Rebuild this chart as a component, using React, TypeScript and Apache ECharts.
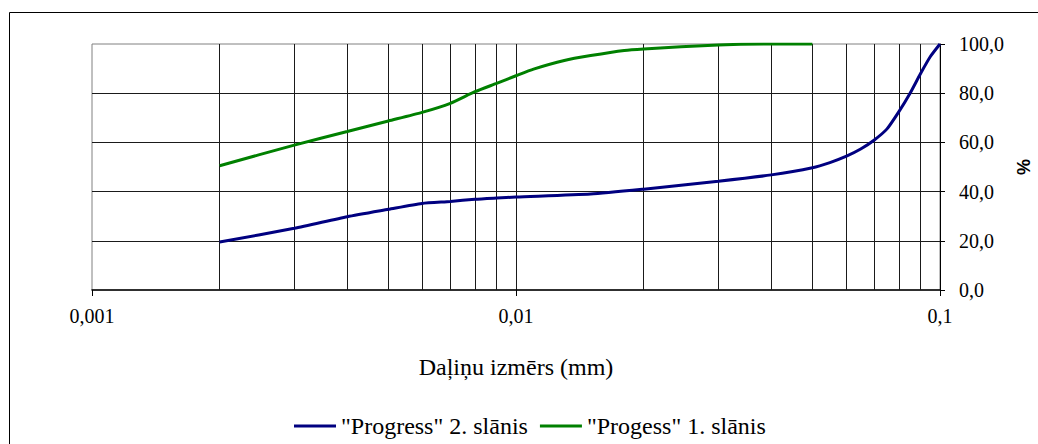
import React, { useEffect, useRef } from "react";
import * as echarts from "echarts";

const seriesNames = ['"Progress" 2. slānis', '"Progess" 1. slānis'];
const seriesColors = ["#000080", "#008000"];

const blueSizes = [0.002, 0.003, 0.004, 0.005, 0.006, 0.007, 0.008, 0.009, 0.01, 0.015, 0.02, 0.03, 0.04, 0.05, 0.055, 0.06, 0.065, 0.07, 0.075, 0.08, 0.085, 0.09, 0.095, 0.1];
const blueValues = [19.5, 25.1, 29.8, 32.8, 35.2, 36.0, 36.9, 37.4, 37.8, 39.0, 41.0, 44.2, 46.8, 49.7, 51.8, 54.3, 57.3, 61.0, 65.5, 72.5, 80.0, 88.0, 95.0, 100.0];

const greenSizes = [0.002, 0.003, 0.004, 0.005, 0.006, 0.007, 0.008, 0.009, 0.01, 0.011, 0.013, 0.015, 0.018, 0.02, 0.03, 0.04, 0.05];
const greenValues = [50.5, 58.9, 64.4, 68.7, 72.2, 75.9, 80.6, 84.0, 87.1, 89.8, 93.3, 95.3, 97.4, 98.0, 99.6, 100.0, 100.0];

const minorGridSizes = [0.002, 0.003, 0.004, 0.005, 0.006, 0.007, 0.008, 0.009, 0.02, 0.03, 0.04, 0.05, 0.06, 0.07, 0.08, 0.09];

const xMin = 0.001;
const xMax = 0.1;
const yMin = 0;
const yMax = 100;
const yInterval = 20;

const xAxisTitle = "Daļiņu izmērs (mm)";
const yAxisTitle = "%";

const serif = "Times New Roman, Liberation Serif, DejaVu Serif, serif";
const sans = "Arial, Liberation Sans, sans-serif";

export default function App() {
  const ref = useRef<HTMLDivElement>(null);
  useEffect(() => {
    if (!ref.current) return;
    const chart = echarts.init(ref.current, undefined, { renderer: "svg" });
    const pairs = (xs: number[], ys: number[]) => xs.map((x, i) => [x, ys[i]]);
    chart.setOption({
      animation: false,
      backgroundColor: "#ffffff",
      textStyle: { fontFamily: serif },
      graphic: [
        {
          type: "rect",
          shape: { x: 9.5, y: 12.5, width: 1200, height: 600 },
          style: { fill: "none", stroke: "#000", lineWidth: 1 },
          silent: true,
          z: -10,
        },
      ],
      grid: {
        left: 92,
        right: 98,
        top: 44,
        bottom: 154,
        outerBoundsMode: "none",
        containLabel: false,
        show: true,
        borderColor: "#808080",
        borderWidth: 1,
        backgroundColor: "transparent",
      },
      legend: {
        data: seriesNames,
        left: 289,
        top: 409,
        icon: "rect",
        itemWidth: 42,
        itemHeight: 3,
        itemGap: 12,
        textStyle: { fontFamily: serif, fontSize: 24, color: "#000", lineHeight: 24 },
      },
      xAxis: {
        type: "log",
        logBase: 10,
        min: xMin,
        max: xMax,
        name: xAxisTitle,
        nameLocation: "middle",
        nameGap: 65,
        nameTextStyle: { fontFamily: serif, fontSize: 24, color: "#000" },
        axisLine: { show: true, onZero: false, lineStyle: { color: "#000", width: 1.5 } },
        axisTick: { show: true, inside: false, length: 6, lineStyle: { color: "#000" } },
        axisLabel: {
          margin: 16,
          fontFamily: serif,
          fontSize: 20,
          color: "#000",
          formatter: (v: number) => String(Number(v.toPrecision(6))).replace(".", ","),
        },
        splitLine: { show: true, showMinLine: false, showMaxLine: false, lineStyle: { color: "#1a1a1a", width: 1 } },
      },
      yAxis: {
        type: "value",
        position: "right",
        min: yMin,
        max: yMax,
        interval: yInterval,
        name: yAxisTitle,
        nameLocation: "middle",
        nameRotate: 90,
        nameGap: 75,
        nameTextStyle: { fontFamily: sans, fontWeight: "bold", fontSize: 18, color: "#000" },
        axisLine: { show: true, lineStyle: { color: "#000", width: 1 } },
        axisTick: { show: true, inside: false, length: 5, lineStyle: { color: "#000" } },
        axisLabel: {
          margin: 19,
          fontFamily: serif,
          fontSize: 20,
          color: "#000",
          formatter: (v: number) => v.toFixed(1).replace(".", ","),
        },
        splitLine: { show: true, showMinLine: false, showMaxLine: false, lineStyle: { color: "#1a1a1a", width: 1 } },
      },
      series: [
        {
          name: "minor-grid",
          type: "lines",
          coordinateSystem: "cartesian2d",
          silent: true,
          polyline: false,
          lineStyle: { color: "#1a1a1a", width: 1, opacity: 1, curveness: 0 },
          data: minorGridSizes.map((v) => ({ coords: [[v, yMin], [v, yMax]] })),
          z: 1,
        },
        {
          name: seriesNames[0],
          type: "line",
          data: pairs(blueSizes, blueValues),
          showSymbol: false,
          symbol: "none",
          smooth: 0.2,
          lineStyle: { color: seriesColors[0], width: 3 },
          itemStyle: { color: seriesColors[0] },
          z: 5,
        },
        {
          name: seriesNames[1],
          type: "line",
          data: pairs(greenSizes, greenValues),
          showSymbol: false,
          symbol: "none",
          smooth: 0.2,
          lineStyle: { color: seriesColors[1], width: 3 },
          itemStyle: { color: seriesColors[1] },
          z: 4,
        },
      ],
    });
    return () => chart.dispose();
  }, []);
  return (
    <div
      ref={ref}
      style={{ position: "fixed", left: 0, top: 0, width: 1038, height: 444, background: "#fff" }}
    />
  );
}
